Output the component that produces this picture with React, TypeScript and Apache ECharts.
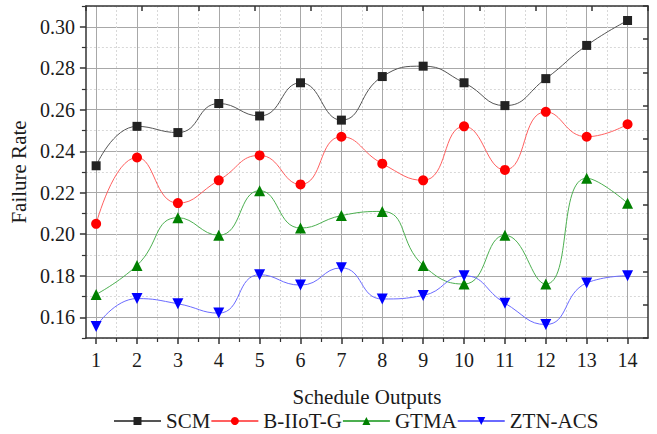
import React, { useEffect, useRef } from 'react';
import * as echarts from 'echarts';

const xValues = [1, 2, 3, 4, 5, 6, 7, 8, 9, 10, 11, 12, 13, 14];
const scm = [0.233, 0.252, 0.249, 0.263, 0.257, 0.273, 0.255, 0.276, 0.281, 0.273, 0.262, 0.275, 0.291, 0.303];
const biiotg = [0.205, 0.237, 0.215, 0.226, 0.238, 0.224, 0.247, 0.234, 0.226, 0.252, 0.231, 0.259, 0.247, 0.253];
const gtma = [0.171, 0.185, 0.208, 0.1995, 0.221, 0.203, 0.209, 0.211, 0.185, 0.176, 0.1995, 0.176, 0.227, 0.215];
const ztnacs = [0.1555, 0.169, 0.1665, 0.162, 0.1805, 0.1755, 0.1838, 0.1688, 0.1705, 0.18, 0.1668, 0.1565, 0.1765, 0.18];

const xTicks = [1, 2, 3, 4, 5, 6, 7, 8, 9, 10, 11, 12, 13, 14];
const xMinorTicks = [1.5, 2.5, 3.5, 4.5, 5.5, 6.5, 7.5, 8.5, 9.5, 10.5, 11.5, 12.5, 13.5];
const yTicks = [0.16, 0.18, 0.2, 0.22, 0.24, 0.26, 0.28, 0.3];
const yMinorTicks = [0.15, 0.17, 0.19, 0.21, 0.23, 0.25, 0.27, 0.29, 0.31];

const FONT = 'Liberation Serif';
const AXIS_COLOR = '#333';
const TEXT_COLOR = '#1a1a1a';

export default function App() {
  const ref = useRef<HTMLDivElement>(null);
  useEffect(() => {
    if (!ref.current) return;
    const chart = echarts.init(ref.current, undefined, { renderer: 'svg' });
    const mk = (arr: number[]) => xValues.map((x, i) => [x, arr[i]]);
    const lineSeries = (
      name: string,
      arr: number[],
      lineColor: string,
      symColor: string,
      symbol: string,
      symbolSize: number
    ) => ({
      name,
      type: 'line',
      xAxisIndex: 0,
      yAxisIndex: 0,
      data: mk(arr),
      smooth: 0.5,
      symbol,
      symbolSize,
      showSymbol: true,
      lineStyle: { color: lineColor, width: 1 },
      itemStyle: { color: symColor, borderWidth: 0 },
      z: 5,
    });
    chart.setOption({
      animation: false,
      backgroundColor: '#fff',
      textStyle: { fontFamily: FONT },
      grid: { left: 83, right: 9, top: 6, bottom: 96 },
      legend: {
        left: 113,
        top: 410,
        padding: 0,
        itemWidth: 47,
        itemHeight: 10,
        itemGap: 0,
        textStyle: { fontFamily: FONT, fontSize: 21, lineHeight: 22, color: TEXT_COLOR, padding: [0, 0, 0, 0] },
        data: ['SCM', 'B-IIoT-G', 'GTMA', 'ZTN-ACS'],
      },
      xAxis: [
        {
          type: 'value',
          position: 'bottom',
          min: 0.75,
          max: 14.5,
          name: 'Schedule Outputs',
          nameLocation: 'middle',
          nameGap: 48,
          nameTextStyle: { fontFamily: FONT, fontSize: 21, color: TEXT_COLOR },
          axisLine: { show: true, onZero: false, lineStyle: { color: AXIS_COLOR, width: 1.5 } },
          axisTick: { show: true, customValues: xTicks, length: 6, lineStyle: { color: AXIS_COLOR, width: 1.5 } },
          axisLabel: { customValues: xTicks, fontFamily: FONT, fontSize: 20, color: TEXT_COLOR, margin: 12 },
          splitLine: { show: true, lineStyle: { color: '#a8a8a8', width: 1 } },
        },
        {
          type: 'value',
          position: 'bottom',
          min: 0.75,
          max: 14.5,
          axisLine: { show: false },
          axisTick: { show: true, customValues: xMinorTicks, length: 4, lineStyle: { color: AXIS_COLOR, width: 1.2 } },
          axisLabel: { show: false },
          splitLine: { show: true, lineStyle: { color: '#d8d8d8', width: 1, type: [2, 2] } },
        },
        {
          type: 'value',
          position: 'top',
          min: 0,
          max: 10,
          interval: 1,
          axisLine: { show: true, onZero: false, lineStyle: { color: AXIS_COLOR, width: 1.5 } },
          axisTick: { show: true, inside: true, length: 5, lineStyle: { color: AXIS_COLOR, width: 1.5 } },
          axisLabel: { show: false },
          splitLine: { show: false },
        },
      ],
      yAxis: [
        {
          type: 'value',
          position: 'left',
          min: 0.15,
          max: 0.31,
          name: 'Failure Rate',
          nameLocation: 'middle',
          nameGap: 50,
          nameTextStyle: { fontFamily: FONT, fontSize: 21, color: TEXT_COLOR },
          axisLine: { show: true, onZero: false, lineStyle: { color: AXIS_COLOR, width: 1.5 } },
          axisTick: { show: true, customValues: yTicks, length: 6, lineStyle: { color: AXIS_COLOR, width: 1.5 } },
          axisLabel: {
            customValues: yTicks,
            fontFamily: FONT,
            fontSize: 20,
            color: TEXT_COLOR,
            margin: 11,
            formatter: (v: number) => v.toFixed(2),
          },
          splitLine: { show: true, lineStyle: { color: '#a8a8a8', width: 1 } },
        },
        {
          type: 'value',
          position: 'left',
          min: 0.15,
          max: 0.31,
          axisLine: { show: false },
          axisTick: { show: true, customValues: yMinorTicks, length: 4, lineStyle: { color: AXIS_COLOR, width: 1.2 } },
          axisLabel: { show: false },
          splitLine: { show: true, lineStyle: { color: '#d8d8d8', width: 1, type: [2, 2] } },
        },
        {
          type: 'value',
          position: 'right',
          min: 0,
          max: 10,
          interval: 1,
          axisLine: { show: true, onZero: false, lineStyle: { color: AXIS_COLOR, width: 1.5 } },
          axisTick: { show: true, inside: true, length: 5, lineStyle: { color: AXIS_COLOR, width: 1.5 } },
          axisLabel: { show: false },
          splitLine: { show: false },
        },
      ],
      series: [
        lineSeries('SCM', scm, '#555555', '#222222', 'rect', 9),
        lineSeries('B-IIoT-G', biiotg, '#ff6060', '#ff0000', 'circle', 10),
        lineSeries('GTMA', gtma, '#4caf50', '#008000', 'triangle', 11),
        lineSeries('ZTN-ACS', ztnacs, '#6a6aff', '#0000ff', 'path://M0,0 L10,0 L5,9 Z', 11),
      ],
    });
    return () => chart.dispose();
  }, []);
  return <div ref={ref} style={{ position: 'fixed', left: 0, top: 0, width: 657, height: 434 }} />;
}
